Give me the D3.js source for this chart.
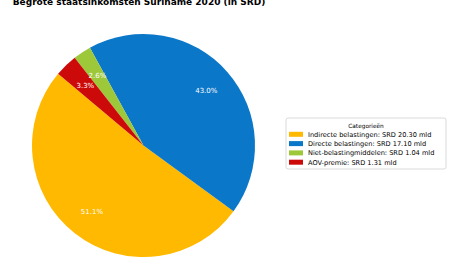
<!DOCTYPE html>
<html>
<head>
<meta charset="utf-8">
<script src="https://cdn.jsdelivr.net/npm/d3@7"></script>
<style>
  body { margin: 0; background: #fff; }
  text { font-family: "DejaVu Sans", sans-serif; }
</style>
</head>
<body>
<div id="chart"></div>
<script>
var svgWidth = 450;
var svgHeight = 280;

// data
var categories = ["Indirecte belastingen", "Directe belastingen", "Niet-belastingmiddelen", "AOV-premie"];
var values = [20.30, 17.10, 1.04, 1.31];
var colors = ["#FFB900", "#0A77C8", "#9DC83A", "#CC0A0A"];

var title = "Begrote staatsinkomsten Suriname 2020 (in SRD)";
var legendTitle = "Categorieën";

var cx = 143.5, cy = 145.5, radius = 111.5;

var svg = d3.select("#chart")
  .append("svg")
  .attr("width", svgWidth)
  .attr("height", svgHeight);

// title (clipped at the top, as in the original)
svg.append("text")
  .attr("x", 139)
  .attr("y", 5)
  .attr("text-anchor", "middle")
  .style("font-size", "9px")
  .style("font-weight", "bold")
  .text(title);

var total = d3.sum(values);

// matplotlib style: startangle 140, counterclockwise
var toRad = Math.PI / 180;
var pie = d3.pie()
  .sort(null)
  .startAngle((90 - 140) * toRad)
  .endAngle((90 - 140 - 360) * toRad);

var arcs = pie(values);

var arc = d3.arc().innerRadius(0).outerRadius(radius);
var labelArc = d3.arc().innerRadius(radius * 0.75).outerRadius(radius * 0.75);

var chartGroup = svg.append("g")
  .attr("transform", `translate(${cx}, ${cy})`);

chartGroup.selectAll("path")
  .data(arcs)
  .enter()
  .append("path")
  .attr("d", arc)
  .attr("fill", (d, i) => colors[i]);

chartGroup.selectAll(".pct")
  .data(arcs)
  .enter()
  .append("text")
  .attr("class", "pct")
  .attr("transform", d => `translate(${labelArc.centroid(d)})`)
  .attr("text-anchor", "middle")
  .attr("dy", "0.35em")
  .style("font-size", "7px")
  .style("fill", "white")
  .text(d => (d.value / total * 100).toFixed(1) + "%");

// legend
var legend = svg.append("g")
  .attr("transform", "translate(286, 118)");

legend.append("rect")
  .attr("width", 160)
  .attr("height", 51)
  .attr("rx", 2)
  .attr("fill", "white")
  .attr("stroke", "#d0d0d0")
  .attr("stroke-width", 0.8);

legend.append("text")
  .attr("x", 80)
  .attr("y", 9.5)
  .attr("text-anchor", "middle")
  .style("font-size", "5.8px")
  .text(legendTitle);

var items = legend.selectAll(".item")
  .data(categories)
  .enter()
  .append("g")
  .attr("class", "item")
  .attr("transform", (d, i) => `translate(0, ${16.3 + i * 9.3})`);

items.append("rect")
  .attr("x", 3)
  .attr("y", -2.5)
  .attr("width", 14)
  .attr("height", 5)
  .attr("fill", (d, i) => colors[i]);

items.append("text")
  .attr("x", 22)
  .attr("y", 0)
  .attr("dy", "0.35em")
  .style("font-size", "6.6px")
  .text((d, i) => `${d}: SRD ${values[i].toFixed(2)} mld`);
</script>
</body>
</html>
